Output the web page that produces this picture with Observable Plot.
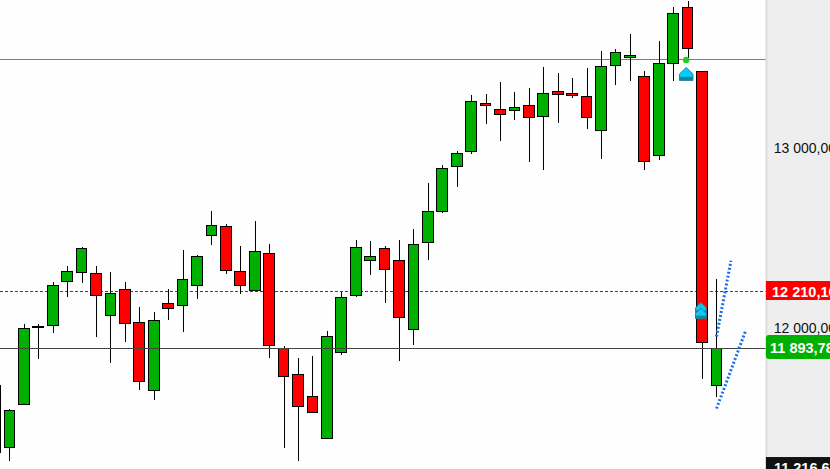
<!DOCTYPE html>
<html>
<head>
<meta charset="utf-8">
<script src="https://cdn.jsdelivr.net/npm/d3@7"></script>
<script src="https://cdn.jsdelivr.net/npm/@observablehq/plot@0.6"></script>
<style>html,body{margin:0;padding:0;background:#fff;overflow:hidden}svg{display:block}</style>
</head>
<body>
<div id="chart"></div>
<script>
const index = [-0.98, ...d3.range(0, 50)];
const high  = [11700,11555,12027,12025,12260,12349,12453,12349,12316,12260,12120,12092,12220,12438,12410,12655,12583,12460,12599,12471,11903,11838,11849,11986,12205,12494,12488,12460,12494,12555,12810,12909,12986,13299,13305,13371,13316,13338,13453,13421,13394,13449,13544,13553,13638,13431,13598,13786,13821,13431,12277];
const open  = [11316,11342,11581,12007,12018,12262,12314,12309,12075,12220,12036,11659,12142,12131,12242,12520,12570,12320,12213,12420,11890,11748,11625,11392,11870,12186,12381,12448,12381,11998,12481,12653,12903,12986,13253,13220,13214,13242,13181,13320,13309,13292,13103,13464,13509,13403,12964,13475,13786,13431,11686];
const close = [11688,11548,12003,12012,12242,12320,12448,12186,12198,12031,11709,12048,12114,12275,12403,12575,12325,12242,12431,11909,11736,11570,11536,11959,12175,12453,12403,12331,12064,12470,12653,12892,12975,13264,13242,13192,13231,13175,13309,13303,13298,13175,13459,13536,13520,12931,13475,13753,13559,11925,11890];
const low   = [11300,11268,11581,11834,11979,12179,12256,11956,11812,11929,11662,11606,12051,11984,12168,12468,12306,12195,12210,11840,11340,11268,11536,11392,11856,12179,12301,12145,11823,11912,12384,12645,12790,12973,13140,13045,13162,12929,12884,13145,13284,13112,12945,13356,13379,12883,12940,13379,13499,11723,11623];

const topLevel = [13499.33];
const midLevel = [12210.1];
const lastLevel = [11893.78];

const tickPrices = [13000, 12000];
const tickLabels = ["13 000,00", "12 000,00"];

const tagLabels = ["12 210,10", "11 893,78", "11 216,67"];
const tagTextPrices = [12207, 11895, 11228];
const tagTextX = [52.82, 52.68, 52.95];
const tagTops   = [12266, 11966, 11288];
const tagBottoms= [12160.4, 11832.7, 11221.56];
const tagColors = ["#ff0000", "#00b000", "#111111"];
const tagRadius = [0, 3, 0];

const dotX = [46.87];
const dotPrices = [13497];
const arrowX1 = [46.87];
const arrowP1 = [13413.8];
const arrowX2 = [47.89];
const arrowP2 = [12116];
const arrowX3 = [47.89];
const arrowP3 = [12084.9];

const upperChannelX = [48.97, 49.97];
const upperChannelP = [11960, 12381];
const lowerChannelX = [48.97, 50.97];
const lowerChannelP = [11560, 11988];

const panelLeft = 52.43;
const xMin = -0.65, xMax = 56.87, yMin = 11221.56, yMax = 13827.11;
const candles = index.map((i, k) => ({i, high: high[k], low: low[k], open: open[k], close: close[k],
  up: close[k] >= open[k]}));

const arrowTop = {draw(c, s){ const r=Math.sqrt(s);
  c.moveTo(0,-r*0.75); c.lineTo(r*0.68,-r*0.08); c.lineTo(r*0.68,r*0.55); c.lineTo(-r*0.68,r*0.55); c.lineTo(-r*0.68,-r*0.08); c.closePath(); }};
const arrowBase = {draw(c, s){ const r=Math.sqrt(s);
  c.moveTo(-r*0.68,r*0.2); c.lineTo(r*0.68,r*0.2); c.lineTo(r*0.68,r*0.55); c.lineTo(-r*0.68,r*0.55); c.closePath(); }};
const arrowMarks = (xs, ps, r) => [
  Plot.dot(xs, {x: d => d, y: ps, symbol: arrowTop, r, fill: "#00ccff", stroke: "#447788", strokeWidth: 1}),
  Plot.dot(xs, {x: d => d, y: ps, symbol: arrowBase, r, fill: "#118899"})
];

const chart = Plot.plot({
  width: 830, height: 469,
  marginLeft: 0, marginRight: 0, marginTop: 0, marginBottom: 0,
  style: {background: "#fefefe", fontFamily: "Liberation Sans"},
  x: {type: "linear", domain: [xMin, xMax], range: [0, 830], axis: null},
  y: {type: "linear", domain: [yMin, yMax], range: [469, 0], axis: null},
  marks: [
    Plot.ruleY(topLevel, {x1: xMin, x2: panelLeft, stroke: "#22bb22", strokeWidth: 1, shapeRendering: "crispEdges"}),
    Plot.ruleY(midLevel, {x1: xMin, x2: panelLeft, stroke: "#dd0000", strokeWidth: 1, strokeDasharray: "3 2", shapeRendering: "crispEdges"}),
    Plot.ruleX(candles, {x: "i", y1: "low", y2: "high", stroke: "#000", strokeWidth: 1, shapeRendering: "crispEdges"}),
    Plot.rect(candles, {x1: d => d.i - 0.37, x2: d => d.i + 0.37, y1: "open", y2: "close",
      fill: d => d.up ? "#00b000" : "#ff0000", stroke: "#000", strokeWidth: 1, shapeRendering: "crispEdges"}),
    Plot.ruleY(lastLevel, {x1: xMin, x2: panelLeft, stroke: "#444444", strokeWidth: 1, shapeRendering: "crispEdges"}),
    Plot.dot(dotX, {x: d => d, y: dotPrices, r: 3.2, fill: "#22cc22"}),
    ...arrowMarks(arrowX1, arrowP1, 5.6),
    ...arrowMarks(arrowX2, arrowP2, 4.5),
    ...arrowMarks(arrowX3, arrowP3, 4.5),
    Plot.line(upperChannelX, {x: d => d, y: upperChannelP, stroke: "#1a6fe8", strokeWidth: 3, strokeDasharray: "2 2", strokeLinecap: "butt"}),
    Plot.line(lowerChannelX, {x: d => d, y: lowerChannelP, stroke: "#1a6fe8", strokeWidth: 3, strokeDasharray: "2 2", strokeLinecap: "butt"}),
    Plot.rect([0], {x1: panelLeft, x2: xMax, y1: yMin, y2: yMax, fill: "#eeeeee"}),
    Plot.ruleX([panelLeft], {stroke: "#dddddd", strokeWidth: 2}),
    Plot.text(tickPrices, {x: 52.94, y: d => d, dy: -1, text: (d, k) => tickLabels[k], textAnchor: "start", fontSize: 14, fill: "#111"}),
    Plot.rect([0], {x1: panelLeft, x2: 58, y1: tagBottoms[0], y2: tagTops[0], fill: tagColors[0]}),
    Plot.rect([1], {x1: panelLeft, x2: 58, y1: tagBottoms[1], y2: tagTops[1], fill: tagColors[1], r: tagRadius[1]}),
    Plot.rect([2], {x1: panelLeft, x2: 58, y1: tagBottoms[2], y2: tagTops[2], fill: tagColors[2]}),
    Plot.text(tagLabels, {x: (d,k) => tagTextX[k], y: (d,k) => tagTextPrices[k], text: d => d, textAnchor: "start", fontSize: 14.5, fontWeight: "bold", fill: "#fff"})
  ]
});
document.getElementById("chart").append(chart);
</script>
</body>
</html>
